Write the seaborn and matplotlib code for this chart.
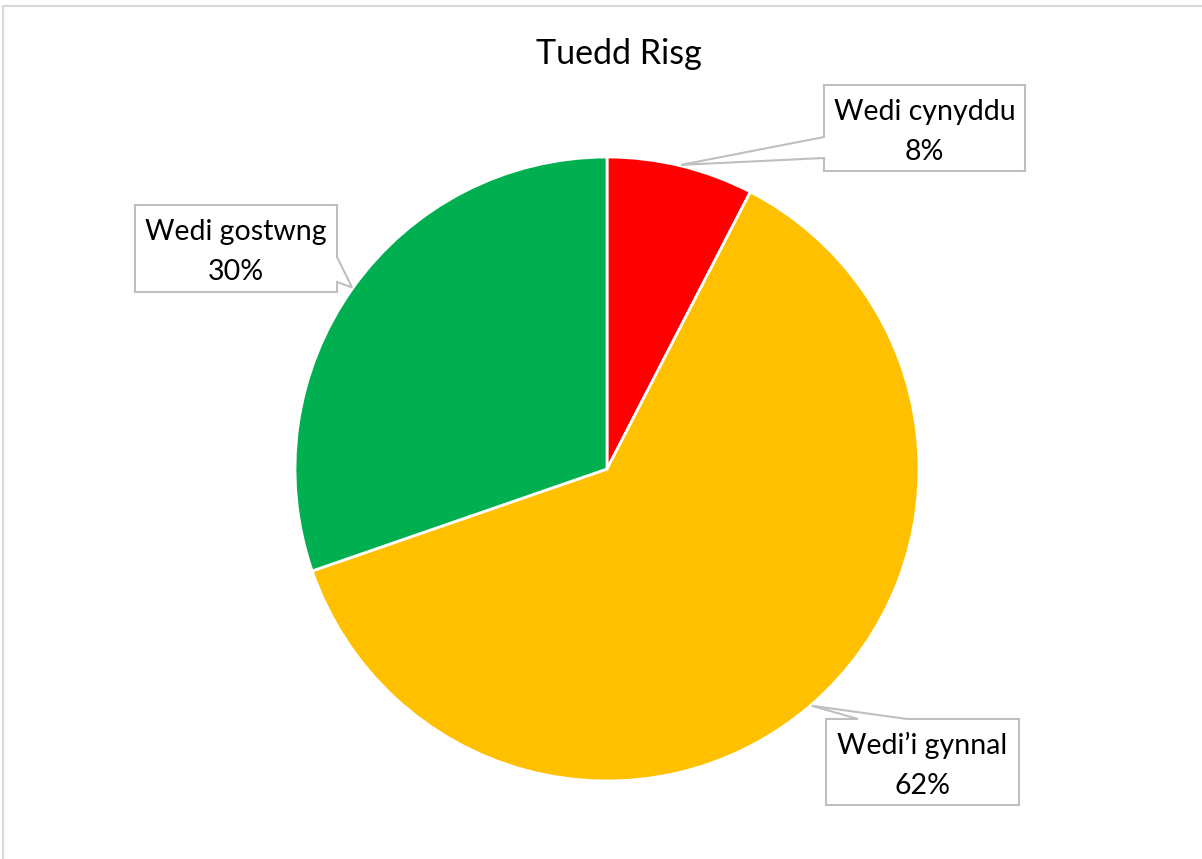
import numpy as np
import matplotlib.pyplot as plt
import seaborn as sns
from matplotlib.patches import Polygon
from matplotlib.lines import Line2D

sns.set_style("white")
plt.rcParams['font.family'] = ['Lato', 'DejaVu Sans']

# data
categories = ["Wedi cynyddu", "Wedi\u2019i gynnal", "Wedi gostwng"]
shares = [7.6, 62.1, 30.3]
pct_labels = ["8%", "62%", "30%"]
colors = ["#FF0000", "#FFC000", "#00B050"]

W, H = 1202, 859
CX, CY, R = 607, 469, 312   # pie centre / radius in pixels

fig = plt.figure(figsize=(W / 100, H / 100), dpi=100)
fig.patch.set_facecolor("white")

ax = fig.add_axes([(CX - R) / W, (H - CY - R) / H, 2 * R / W, 2 * R / H])
wedges, _ = ax.pie(shares, colors=colors, startangle=90, counterclock=False,
                   wedgeprops=dict(edgecolor="white", linewidth=2.0))
ax.set_xlim(-1, 1)
ax.set_ylim(-1, 1)
ax.axis("off")

# overlay in pixel coords (y down)
ov = fig.add_axes([0, 0, 1, 1], zorder=5)
ov.set_xlim(0, W)
ov.set_ylim(H, 0)
ov.axis("off")
ov.patch.set_alpha(0)

ov.text(619, 64, "Tuedd Risg", ha="center", va="baseline", fontsize=24.5, color="black")

# callout boxes: box (x0, y0, x1, y1) and where the pointer meets the box edge
boxes = {
    0: dict(box=(824, 85, 1025, 171), side="left", a=(137, 158)),
    1: dict(box=(826, 719, 1019, 805), side="top", a=(858, 907)),
    2: dict(box=(135, 205, 337, 292), side="right", a=(257, 282)),
}

for i, w in enumerate(wedges):
    mid = np.deg2rad((w.theta1 + w.theta2) / 2)
    tip = (CX + (R + 1) * np.cos(mid), CY - (R + 1) * np.sin(mid))
    x0, y0, x1, y1 = boxes[i]["box"]
    a, b = boxes[i]["a"]
    side = boxes[i]["side"]
    if side == "left":
        pts = [(x0, y0), (x1, y0), (x1, y1), (x0, y1), (x0, b), tip, (x0, a)]
    elif side == "top":
        pts = [(x0, y0), (a, y0), tip, (b, y0), (x1, y0), (x1, y1), (x0, y1)]
    else:
        pts = [(x0, y0), (x1, y0), (x1, a), tip, (x1, b), (x1, y1), (x0, y1)]
    ov.add_patch(Polygon(pts, closed=True, facecolor="white", edgecolor="#BFBFBF",
                         linewidth=1.5, zorder=3))
    xc = (x0 + x1) / 2
    ov.text(xc, y0 + 35, categories[i], ha="center", va="baseline",
            fontsize=20.5, color="black", zorder=4)
    ov.text(xc, y0 + 75, pct_labels[i], ha="center", va="baseline",
            fontsize=20.5, color="black", zorder=4)

# chart area border (top and left visible)
fig.add_artist(Line2D([3 / W, 1], [1 - 6 / H, 1 - 6 / H], color="#D9D9D9", lw=1.5))
fig.add_artist(Line2D([3 / W, 3 / W], [0, 1 - 6 / H], color="#D9D9D9", lw=1.5))

fig.savefig("out.png", dpi=100, facecolor="white")
